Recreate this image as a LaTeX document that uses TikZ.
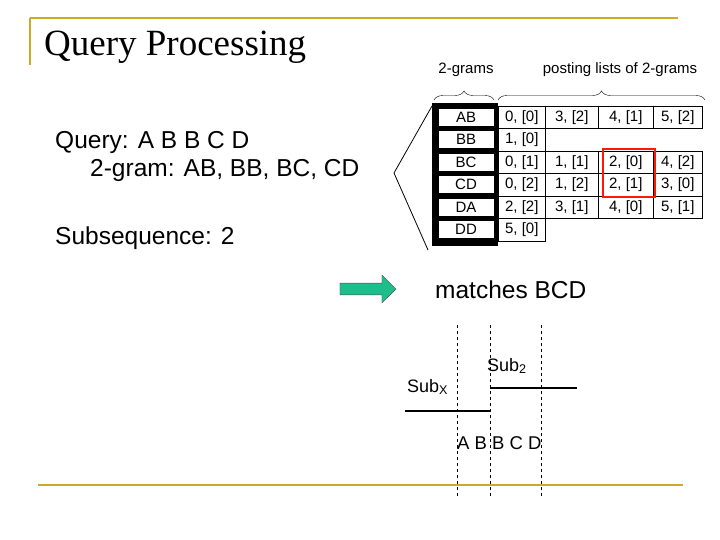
\documentclass[tikz,border=0pt]{standalone}
\usepackage{fontspec}
\setmainfont{Liberation Sans}
\newfontfamily\titlefont{Liberation Serif}
\usetikzlibrary{decorations.pathreplacing,shapes.arrows}
\definecolor{gold}{RGB}{204,170,40}
\definecolor{arrgreen}{RGB}{30,190,140}
\tikzset{Gram Cell/.style={draw=black,fill=white,line width=0.6pt,minimum width=56pt,minimum height=18pt,inner sep=0pt,font=\fontsize{15}{15}\selectfont},
  Post Cell/.style={draw=black,line width=0.6pt,minimum height=22.5pt,inner sep=0pt,anchor=north west,font=\fontsize{15}{15}\selectfont},
  Body Text/.style={anchor=west,inner sep=0pt,font=\fontsize{24.5}{24.5}\selectfont},
  Guide Line/.style={dashed,thin}}
\begin{document}
\begin{tikzpicture}[x=1pt,y=-1pt]
	\useasboundingbox (0,0) rectangle (720,540);
	% frame lines
	\draw [gold,line width=2pt] (30,18) -- (678,18);
	\draw [gold,line width=2pt] (30,18) -- (30,65);
	\draw [gold,line width=1.5pt] (38,485) -- (683,485);
	\node [anchor=west,inner sep=0pt,font=\titlefont\fontsize{37}{37}\selectfont] (title) at (44,47) {Query Processing};
	% query text
	\node [Body Text] (query) at (55,142) {Query: A B B C D};
	\node [Body Text] (grams) at (90,170) {2-gram: AB, BB, BC, CD};
	\node [Body Text] (subseq) at (55,238) {Subsequence: 2};
	% 2-gram table
	\fill (432,103) rectangle (498,246);
	\foreach \g [count=\i from 0] in {AB,BB,BC,CD,DA,DD}{%
		\node [Gram Cell] (g\g) at (466,{117+22.5*\i}) {\g};
	}
	\foreach \row/\vals in {0/{0/0,3/2,4/1,5/2},1/{1/0},2/{0/1,1/1,2/0,4/2},3/{0/2,1/2,2/1,3/0},4/{2/2,3/1,4/0,5/1},5/{5/0}}{%
		\foreach \a/\b [count=\c from 0] in \vals {%
			\pgfmathsetmacro{\xl}{{498,545,598,653}[\c]}
			\pgfmathsetmacro{\cw}{{47,53,55,49}[\c]}
			\node [Post Cell,minimum width=\cw pt] (p\row\c) at (\xl,{106+22.5*\row}) {\a, [\b]};
		}
	}
	\draw [red!80!orange,line width=1.8pt] (603,149) rectangle (655,197);
	% braces and labels
	\draw [decorate,decoration={brace,amplitude=9pt}] (434,100) -- (494,100);
	\draw [decorate,decoration={brace,amplitude=9pt}] (498,100) -- (705,100);
	\node [font=\fontsize{15}{15}\selectfont] (lblgram) at (466,70) {2-grams};
	\node [font=\fontsize{15}{15}\selectfont] (lblpost) at (620,70) {posting lists of 2-grams};
	\draw [thick] (432,106) -- (394,173) -- (428,250);
	% arrow and result
	\node [single arrow,draw=black!70,fill=arrgreen,minimum height=56pt,minimum width=28pt,single arrow head extend=3pt,inner sep=2pt] (arrow) at (365,289) {};
	\node [Body Text] (match) at (435,290) {matches BCD};
	% subsequence sketch
	\draw [Guide Line] (457,325) -- (457,497);
	\draw [Guide Line] (490,325) -- (490,497);
	\draw [Guide Line] (541,325) -- (541,497);
	\draw [line width=2pt] (490,388) -- (577,388);
	\draw [line width=2pt] (405,411) -- (490,411);
	\node [anchor=west,inner sep=0pt,font=\fontsize{18}{18}\selectfont] (sub2) at (487,366) {Sub\textsubscript{2}};
	\node [anchor=west,inner sep=0pt,font=\fontsize{18}{18}\selectfont] (subx) at (407,387) {Sub\textsubscript{X}};
	\node [anchor=west,inner sep=0pt,font=\fontsize{18.5}{18.5}\selectfont] (seq) at (457,443) {A B B C D};
\end{tikzpicture}
\end{document}
